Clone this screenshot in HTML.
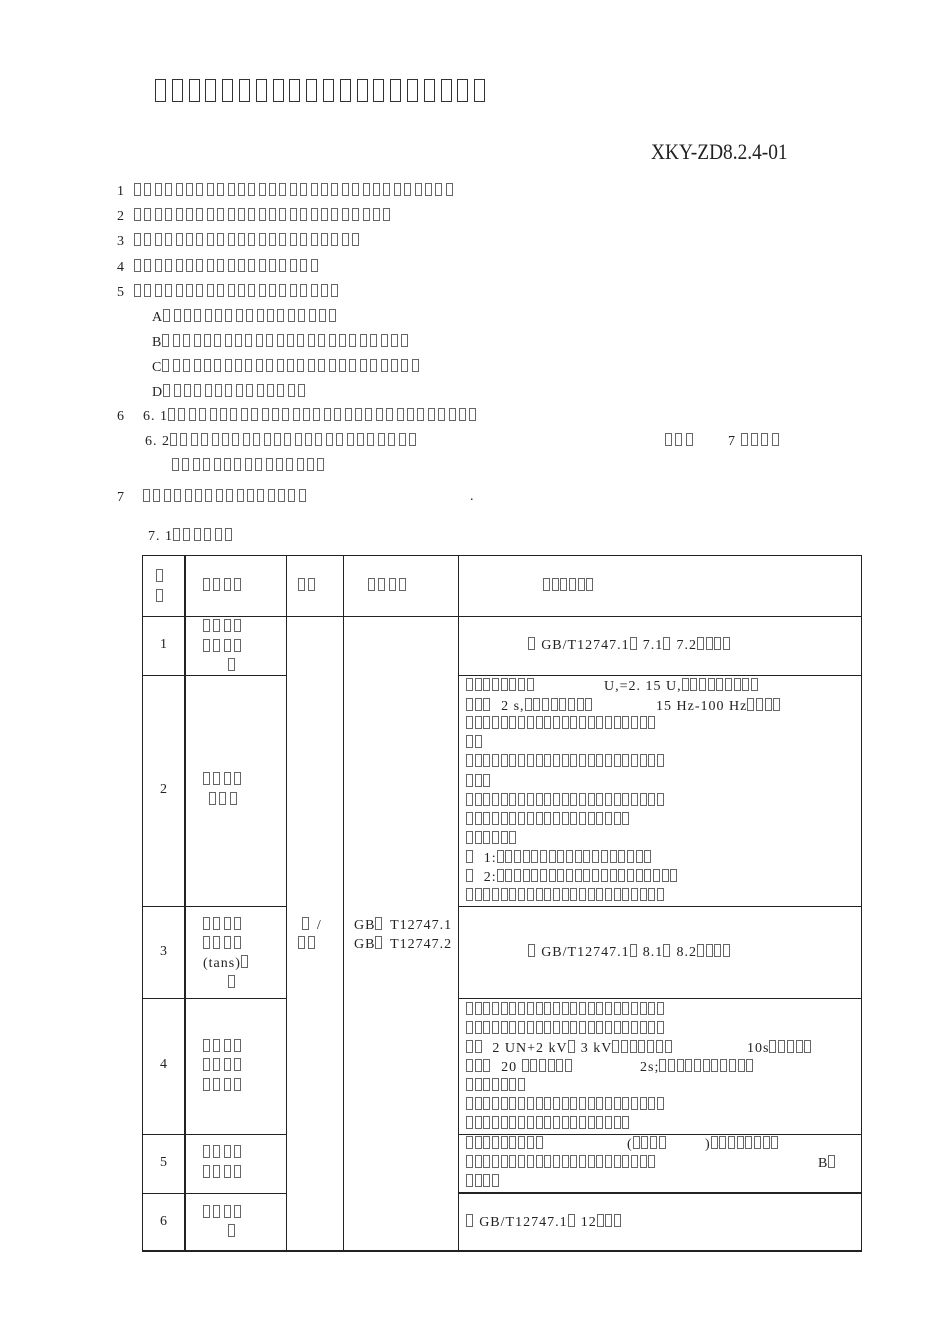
<!DOCTYPE html>
<html><head><meta charset="utf-8"><style>
body{margin:0;background:#fff;width:950px;height:1344px;position:relative;overflow:hidden;font-family:"Liberation Serif",serif;color:#222}
.t{position:absolute;white-space:pre;font-size:14px;line-height:16px;letter-spacing:1px}
.b{display:inline-block;width:5px;height:11px;border:1px solid #666;margin-right:3.4px;vertical-align:-1px;box-sizing:content-box}
.tb .b{margin-right:1.7px}
.big .b{width:9px;height:21px;border:1.5px solid #333;margin-right:5.8px}
.hl,.vl{position:absolute;background:#222}
</style></head><body>
<script>
function T(x,y,s,cls){var d=document.createElement('div');d.className='t'+(cls?' '+cls:'');d.style.left=x+'px';d.style.top=(y-8)+'px';
d.innerHTML=s.replace(/#/g,'<span class="b"></span>');document.body.appendChild(d);return d;}
function C(x,y,s){return T(x,y,s,'tb');}
function H(x1,x2,y,w){var d=document.createElement('div');d.className='hl';d.style.cssText='left:'+x1+'px;top:'+y+'px;width:'+(x2-x1)+'px;height:'+(w||1)+'px';document.body.appendChild(d);}
function V(x,y1,y2,w){var d=document.createElement('div');d.className='vl';d.style.cssText='left:'+x+'px;top:'+y1+'px;width:'+(w||1)+'px;height:'+(y2-y1)+'px';document.body.appendChild(d);}
function R(n){return '#'.repeat(n);}
var t=T(155,92,R(20),'big');t.style.top='79px';
var x=T(651,152,'XKY-ZD8.2.4-01');x.style.fontSize='22px';x.style.top='140px';x.style.lineHeight='24px';x.style.letterSpacing='0';x.style.transform='scaleX(0.88)';x.style.transformOrigin='left';
T(117,191,'1  '+R(31));T(117,216,'2  '+R(25));T(117,241,'3  '+R(22));T(117,267,'4  '+R(18));T(117,292,'5  '+R(20));
T(152,317,'A'+R(17));T(152,342,'B'+R(24));T(152,367,'C'+R(25));T(152,392,'D'+R(14));
T(117,416,'6    6. 1'+R(30));T(145,441,'6. 2'+R(24));T(665,441,R(3));T(728,441,'7 '+R(4));T(172,466,R(15));
T(117,497,'7    '+R(16));T(470,497,'.');T(148,536,'7. 1'+R(6));
H(142,862,555);H(142,862,1250,2);
[616,675,906,998,1134].forEach(function(y){H(142,286,y);H(458,862,y);});
H(142,286,1193);H(458,862,1192,2);H(343,458,616);H(286,343,616);
V(142,555,1251);V(184,555,1251,2);V(286,555,1251);V(343,555,1251);V(458,555,1251);V(861,555,1251);
T(156,577,'#');T(156,597,'#');T(203,586,R(4));T(298,586,R(2));T(368,586,R(4));C(543,586,R(6));
T(160,645,'1');T(203,627,R(4));T(203,647,R(4));T(228,666,'#');C(528,645,'# GB/T12747.1# 7.1# 7.2'+R(4));
T(160,790,'2');T(203,780,R(4));T(209,800,R(3));
C(466,686,R(8));C(604,686,'U,=2. 15 U,'+R(9));C(466,706,R(3)+'  2 s,'+R(8));C(656,706,'15 Hz-100 Hz'+R(4));
var L2=[22,2,23,3,23,19,6];var ys=[724,743,762,782,801,820,839];
L2.forEach(function(n,i){C(466,ys[i],R(n));});
C(466,858,'#  1:'+R(18));C(466,877,'#  2:'+R(21));C(466,896,R(23));
T(160,952,'3');T(203,925,R(4));T(203,944,R(4));T(203,963,'(tans)#');T(228,983,'#');
T(302,925,'# /');T(298,944,R(2));T(354,925,'GB# T12747.1');T(354,944,'GB# T12747.2');
C(528,952,'# GB/T12747.1# 8.1# 8.2'+R(4));
T(160,1065,'4');T(203,1047,R(4));T(203,1066,R(4));T(203,1086,R(4));
C(466,1010,R(23));C(466,1029,R(23));C(466,1048,'##  2 UN+2 kV# 3 kV'+R(7));C(747,1048,'10s'+R(5));
C(466,1067,R(3)+'  20 '+R(6));C(640,1067,'2s;'+R(11));C(466,1086,R(7));C(466,1105,R(23));C(466,1124,R(19));
T(160,1163,'5');T(203,1153,R(4));T(203,1173,R(4));
C(466,1144,R(9));C(627,1144,'('+R(4));C(705,1144,')'+R(8));C(466,1163,R(22));C(818,1163,'B#');C(466,1182,R(4));
T(160,1222,'6');T(203,1213,R(4));T(228,1232,'#');C(466,1222,'# GB/T12747.1# 12'+R(3));
</script>
</body></html>
